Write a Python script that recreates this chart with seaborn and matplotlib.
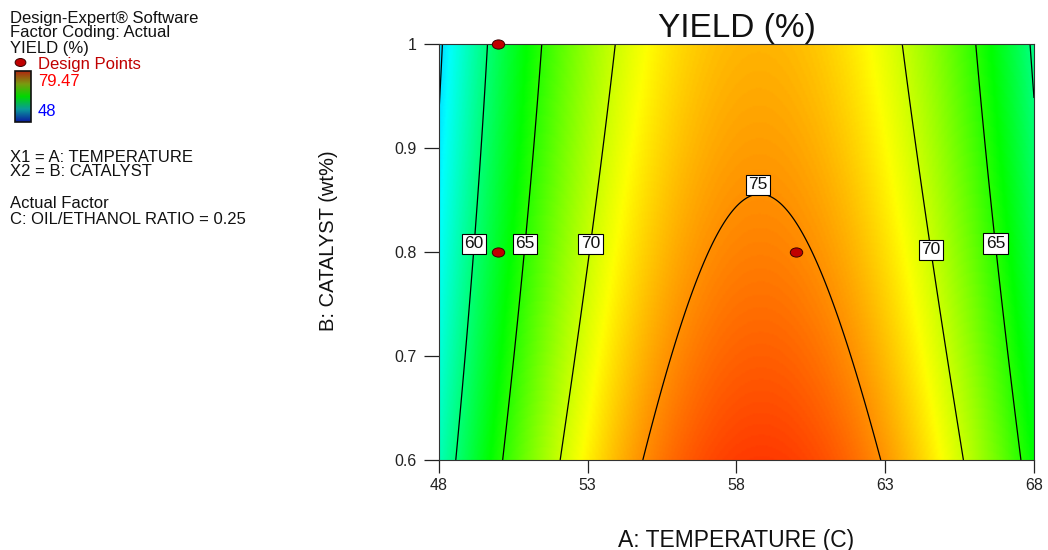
import numpy as np
import matplotlib
matplotlib.use("Agg")
import matplotlib.pyplot as plt
import seaborn as sns
from matplotlib.colors import LinearSegmentedColormap, Normalize
from matplotlib.path import Path
from matplotlib.patches import Rectangle
from matplotlib.transforms import Affine2D

# Quadratic response model for YIELD (%) in coded factors, C held at 0.25
# terms: Intercept, A, B, AB, A^2, B^2
coef_intercept = 75.40
coef_a = 2.67
coef_b = -1.88
coef_ab = -0.17
coef_aa = -16.7
coef_bb = 0.27

temperature_range = [48, 68]
catalyst_range = [0.6, 1.0]
temperature_center, temperature_half = 58.0, 10.0
catalyst_center, catalyst_half = 0.8, 0.2

temperature_ticks = [48, 53, 58, 63, 68]
temperature_tick_labels = ["48", "53", "58", "63", "68"]
catalyst_ticks = [0.6, 0.7, 0.8, 0.9, 1.0]
catalyst_tick_labels = ["0.6", "0.7", "0.8", "0.9", "1"]

unlabelled_levels = [55]
labelled_levels = [60, 65, 70, 75]
label_temperature = [49.18, 50.86, 53.04, 58.72, 64.54, 66.66]
label_catalyst = [0.808, 0.808, 0.808, 0.857, 0.802, 0.808]

design_temperature = [50, 50, 60]
design_catalyst = [1.0, 0.8, 0.8]

yield_low, yield_high = 48, 79.47

sns.set_style("white")
plt.rcParams["font.family"] = ["Liberation Sans", "DejaVu Sans"]

# Design-Expert style rainbow: blue -> cyan -> green -> yellow -> red
rainbow = LinearSegmentedColormap.from_list(
    "de_rainbow", ["#0000ff", "#00ffff", "#00ff00", "#ffff00", "#ff0000"])
rainbow_dark = LinearSegmentedColormap.from_list(
    "de_rainbow_dark", ["#0a1aa0", "#0a9a9a", "#00d800", "#7a9a10", "#b02810"])
norm = Normalize(vmin=yield_low, vmax=yield_high)

# Evaluate the fitted surface on a fine grid
t = np.linspace(temperature_range[0], temperature_range[1], 400)
c = np.linspace(catalyst_range[0], catalyst_range[1], 300)
T, C = np.meshgrid(t, c)
x1 = (T - temperature_center) / temperature_half
x2 = (C - catalyst_center) / catalyst_half
Y = (coef_intercept + coef_a * x1 + coef_b * x2 + coef_ab * x1 * x2
     + coef_aa * x1 ** 2 + coef_bb * x2 ** 2)

W, H = 1048, 550
fig = plt.figure(figsize=(W / 100, H / 100), dpi=100)
ax = fig.add_axes([439 / W, 90 / H, 595 / W, 416 / H])

ax.pcolormesh(T, C, Y, cmap=rainbow, norm=norm, shading="gouraud", rasterized=True)
ax.contour(T, C, Y, levels=unlabelled_levels, colors="black", linewidths=0.9)
cs = ax.contour(T, C, Y, levels=labelled_levels, colors="black", linewidths=0.9)

labels = ax.clabel(cs, inline=False, fontsize=12.5, fmt="%d",
                   manual=list(zip(label_temperature, label_catalyst)))
for txt in labels:
    txt.set_rotation(0)
    txt.set_bbox(dict(boxstyle="square,pad=0.15", facecolor="white",
                      edgecolor="black", linewidth=0.8))
    txt.set_zorder(6)
    txt.set_color("#111111")
    if txt.get_text() == "75":
        x, y = txt.get_position()
        txt.set_position((x, y + 0.009))

# Elliptical design-point marker
ellipse = Path.unit_circle().transformed(Affine2D().scale(1.35, 1.0))
sns.scatterplot(x=design_temperature, y=design_catalyst, ax=ax, marker=ellipse,
                s=80, color="#c00000", edgecolor="#3a0000", linewidth=0.7,
                clip_on=False, zorder=7, legend=False)

ax.set_xlim(*temperature_range)
ax.set_ylim(*catalyst_range)
ax.set_xticks(temperature_ticks)
ax.set_xticklabels(temperature_tick_labels)
ax.set_yticks(catalyst_ticks)
ax.set_yticklabels(catalyst_tick_labels)
ax.tick_params(axis="x", bottom=True, top=False, direction="out", length=9,
               width=0.9, pad=4, labelsize=11.5, colors="#222222")
ax.tick_params(axis="y", left=True, right=False, direction="out", length=11,
               width=0.9, pad=5, labelsize=11.5, colors="#222222")
for sp in ax.spines.values():
    sp.set_color("#333333")
    sp.set_linewidth(0.8)

ax.set_title("YIELD (%)", fontsize=24, pad=5, color="#111111")
ax.set_xlabel("A: TEMPERATURE (C)", fontsize=16.5, color="#111111")
ax.xaxis.set_label_coords(0.5, -0.165)
ax.set_ylabel("B: CATALYST (wt%)", fontsize=14.5, color="#111111")
ax.yaxis.set_label_coords(-0.17, 0.526)

# Information panel on the left, laid out in pixel units
ov = fig.add_axes([0, 0, 1, 1], zorder=-1)
gradient = np.linspace(0, 1, 200).reshape(-1, 1)
ov.imshow(gradient, extent=[15, 31, 122, 71], origin="lower",
          cmap=rainbow_dark, aspect="auto")
ov.add_patch(Rectangle((15, 71), 16, 51, fill=False, edgecolor="#101010", linewidth=1.2))
ov.scatter([20], [62], marker=ellipse, s=60, color="#c00000",
           edgecolor="#3a0000", linewidth=0.7, zorder=3)
ov.set_xlim(0, W)
ov.set_ylim(H, 0)
ov.axis("off")

info_lines = [
    ("Design-Expert\u00ae Software", 10, 18, "#111111"),
    ("Factor Coding: Actual", 10, 33, "#111111"),
    ("YIELD (%)", 10, 48, "#111111"),
    ("Design Points", 38, 65, "#c00000"),
    ("79.47", 38, 81, "#ff0000"),
    ("48", 38, 111, "#0000ff"),
    ("X1 = A: TEMPERATURE", 10, 157, "#111111"),
    ("X2 = B: CATALYST", 10, 172, "#111111"),
    ("Actual Factor", 10, 204, "#111111"),
    ("C: OIL/ETHANOL RATIO = 0.25", 10, 219, "#111111"),
]
for text, x, y, col in info_lines:
    ov.text(x, y, text, fontsize=12, color=col, ha="left", va="center")

fig.savefig("out.png", dpi=100)
